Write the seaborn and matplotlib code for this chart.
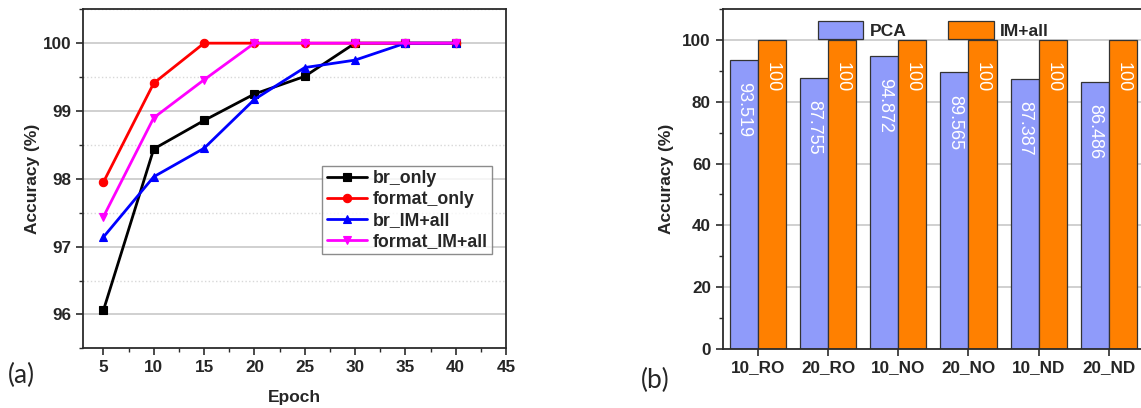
import numpy as np
import pandas as pd
import matplotlib
matplotlib.use('Agg')
import matplotlib.pyplot as plt
import seaborn as sns
from matplotlib.ticker import MultipleLocator

# ---------------- data ----------------
epochs = [5, 10, 15, 20, 25, 30, 35, 40]
br_only = [96.06, 98.44, 98.86, 99.25, 99.51, 100, 100, 100]
format_only = [97.95, 99.41, 100, 100, 100, 100, 100, 100]
br_im_all = [97.14, 98.03, 98.45, 99.17, 99.64, 99.75, 100, 100]
format_im_all = [97.44, 98.90, 99.46, 100, 100, 100, 100, 100]
series_names = ['br_only', 'format_only', 'br_IM+all', 'format_IM+all']

categories = ['10_RO', '20_RO', '10_NO', '20_NO', '10_ND', '20_ND']
pca_vals = [93.519, 87.755, 94.872, 89.565, 87.387, 86.486]
im_all_vals = [100, 100, 100, 100, 100, 100]
methods = ['PCA', 'IM+all']

# ---------------- style ----------------
sns.set_style('ticks')
plt.rcParams['font.family'] = ['Liberation Sans', 'DejaVu Sans']
plt.rcParams['font.weight'] = 'bold'
plt.rcParams['axes.labelweight'] = 'bold'

fig = plt.figure(figsize=(11.41, 4.08), dpi=100)
ax1 = fig.add_axes([0.073, 0.1463, 0.3705, 0.831])
ax2 = fig.add_axes([0.6334, 0.1453, 0.3692, 0.832])

spine_color = '#2b2b2b'
tick_size = 12.3

# ---------------- left: line chart ----------------
line_data = [br_only, format_only, br_im_all, format_im_all]
colors = ['#000000', '#ff0000', '#0000ff', '#ff00ff']
markers = ['s', 'o', '^', 'v']
for name, vals, c, m in zip(series_names, line_data, colors, markers):
    df = pd.DataFrame({'Epoch': epochs, 'Accuracy': vals})
    sns.lineplot(data=df, x='Epoch', y='Accuracy', color=c, marker=m,
                 markersize=6, markeredgecolor=c, markeredgewidth=0.8,
                 linewidth=2, label=name, ax=ax1)

ax1.set_xlim(3, 45)
ax1.set_ylim(95.5, 100.5)
ax1.xaxis.set_major_locator(MultipleLocator(5))
ax1.xaxis.set_minor_locator(MultipleLocator(2.5))
ax1.yaxis.set_major_locator(MultipleLocator(1))
ax1.yaxis.set_minor_locator(MultipleLocator(0.5))
ax1.set_xticks([5, 10, 15, 20, 25, 30, 35, 40, 45])
ax1.yaxis.grid(True, which='major', color='#c8c8c8', lw=1.2)
ax1.yaxis.grid(True, which='minor', color='#d8d8d8', ls=':', lw=1)
ax1.set_axisbelow(True)
ax1.set_xlabel('Epoch', fontsize=12.5, fontweight='bold', labelpad=11)
ax1.set_ylabel('Accuracy (%)', fontsize=12.5, fontweight='bold', labelpad=2)
ax1.tick_params(axis='both', which='major', direction='out', length=5,
                width=1.2, labelsize=tick_size, color=spine_color)
ax1.tick_params(axis='both', which='minor', direction='out', length=3,
                width=1.0, color=spine_color)
for lab in ax1.get_xticklabels() + ax1.get_yticklabels():
    lab.set_fontweight('bold')
for sp in ax1.spines.values():
    sp.set_visible(True)
    sp.set_linewidth(1.3)
    sp.set_color(spine_color)
leg1 = ax1.legend(loc='upper left', bbox_to_anchor=(0.565, 0.539),
                  prop={'size': 12.8, 'weight': 'bold'}, frameon=True,
                  fancybox=False, edgecolor='#707070', handlelength=2.3,
                  labelspacing=0.22, handletextpad=0.3, borderpad=0.25,
                  borderaxespad=0)
leg1.get_frame().set_linewidth(1.0)

# ---------------- right: grouped bars ----------------
df_bar = pd.DataFrame({
    'Category': categories * 2,
    'Accuracy': pca_vals + im_all_vals,
    'Method': [methods[0]] * len(categories) + [methods[1]] * len(categories),
})
sns.barplot(data=df_bar, x='Category', y='Accuracy', hue='Method',
            palette=['#8f9bfa', '#ff8000'], saturation=1, width=0.8,
            edgecolor='#333333', linewidth=0.9, ax=ax2, zorder=2)

ax2.set_xlim(-0.5, 5.5)
ax2.set_ylim(0, 110)
ax2.yaxis.set_major_locator(MultipleLocator(20))
ax2.yaxis.set_minor_locator(MultipleLocator(10))
ax2.set_yticks([0, 20, 40, 60, 80, 100])
ax2.yaxis.grid(True, which='major', color='#c8c8c8', lw=1.2)
ax2.set_axisbelow(True)
ax2.set_xlabel('')
ax2.set_ylabel('Accuracy (%)', fontsize=12.5, fontweight='bold', labelpad=6)
ax2.tick_params(axis='both', which='major', direction='out', length=5,
                width=1.2, labelsize=tick_size, color=spine_color)
ax2.tick_params(axis='y', which='minor', direction='out', length=3,
                width=1.0, color=spine_color)
for lab in ax2.get_xticklabels() + ax2.get_yticklabels():
    lab.set_fontweight('bold')
for sp in ax2.spines.values():
    sp.set_visible(True)
    sp.set_linewidth(1.3)
    sp.set_color(spine_color)

for cont in ax2.containers:
    for bar in cont:
        h = bar.get_height()
        ax2.annotate(f'{h:g}', xy=(bar.get_x() + bar.get_width() / 2, h),
                     xytext=(0, -16), textcoords='offset points',
                     ha='center', va='top', rotation=-90, color='white',
                     fontsize=13, fontweight='normal')

leg2 = ax2.legend(loc='upper center', bbox_to_anchor=(0.5, 1.0), ncol=2,
                  frameon=False, prop={'size': 12.6, 'weight': 'bold'},
                  handlelength=2.6, handleheight=1.25, handletextpad=0.35,
                  columnspacing=2.4, borderaxespad=0.25)
for p in leg2.get_patches():
    p.set_edgecolor('#333333')
    p.set_linewidth(0.9)

# ---------------- panel labels ----------------
fig.text(0.007, 0.08, '(a)', fontsize=19, fontweight='normal',
         family=['Lato', 'DejaVu Sans'], va='center', ha='left')
fig.text(0.562, 0.068, '(b)', fontsize=19, fontweight='normal',
         family=['Lato', 'DejaVu Sans'], va='center', ha='left')

fig.savefig('out.png', dpi=100)
